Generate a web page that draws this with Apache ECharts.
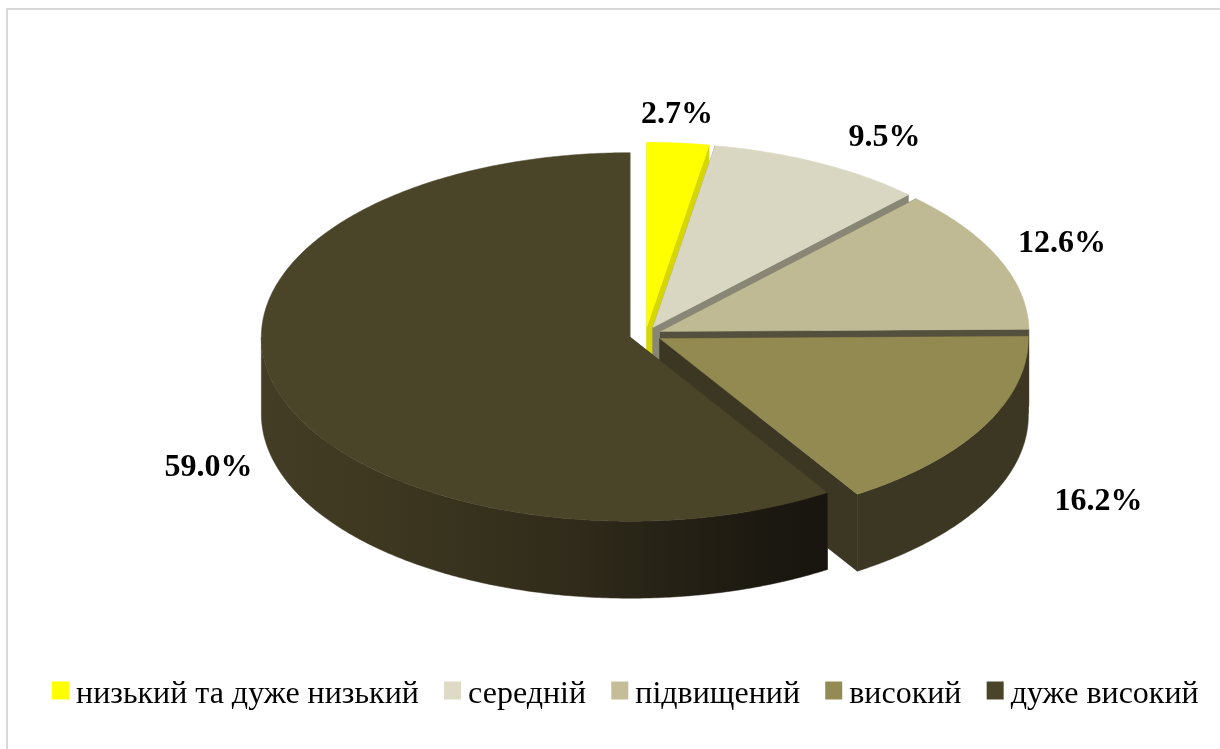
<!DOCTYPE html>
<html><head><meta charset="utf-8">
<style>html,body{margin:0;padding:0;background:#fff}#c{width:1220px;height:749px}</style>
<script src="https://cdn.jsdelivr.net/npm/echarts@6/dist/echarts.min.js"></script>
</head><body><div id="c"></div>
<script>
const categories = ['низький та дуже низький','середній','підвищений','високий','дуже високий'];
const shares = [2.7, 9.5, 12.6, 16.2, 59.0];

const topColors = ['#ffff00','#d9d6c1','#c0ba94','#938a52','#4a4429'];
const legendColors = ['#ffff00','#dedac5','#c4bd97','#948a54','#4a452a'];
const radialWallColors = ['#d6d600','#888674','#54503e','#3c3722','#3c3722'];
const outerWallColors = ['#d6d600','#888674','#54503e','#3c3722',null];
const labelAnchors = [[677,115],[884.5,138],[1062,244],[1098.5,502],[208.5,468]];

const CX=645.5, CY=334.7, RX=368.5, FLAT=0.5, EXPLODE=16.3, DEPTH=77;
const RY=RX*FLAT;
const total=shares.reduce((a,b)=>a+b,0);
const TAU=Math.PI*2;

function pt(c,a,dy){return [c[0]+RX*Math.sin(a), c[1]-RY*Math.cos(a)+(dy||0)];}
function arc(c,a0,a1,dy){
  const out=[], n=Math.max(4,Math.ceil((a1-a0)/0.01));
  for(let i=0;i<=n;i++) out.push(pt(c,a0+(a1-a0)*i/n,dy));
  return out;
}
function renderSlice(params,api){
  const i=params.seriesIndex, v=api.value(0);
  let before=0; for(let k=0;k<i;k++) before+=shares[k];
  const a0=before/total*TAU, a1=(before+v)/total*TAU, mid=(a0+a1)/2;
  const c=[CX+EXPLODE*Math.sin(mid), CY-EXPLODE*FLAT*Math.cos(mid)];
  const kids=[];
  const poly=(points,fill,stroke)=>kids.push({type:'polygon',shape:{points},
    style:{fill,stroke:stroke||fill,lineWidth:0.5}});
  [a0,a1].forEach(a=>{
    const p=pt(c,a);
    poly([c,p,[p[0],p[1]+DEPTH],[c[0],c[1]+DEPTH]],radialWallColors[i]);
  });
  const w0=Math.max(a0,Math.PI/2), w1=Math.min(a1,Math.PI*1.5);
  if(w1>w0){
    const top=arc(c,w0,w1,0), bottom=arc(c,w0,w1,DEPTH).reverse();
    const fill = outerWallColors[i] || new echarts.graphic.LinearGradient(1,0,0,0,[
      {offset:0,color:'#181510'},{offset:0.12,color:'#1c1911'},{offset:0.45,color:'#302b1a'},
      {offset:0.8,color:'#3e3821'},{offset:1,color:'#433d25'}]);
    poly(top.concat(bottom),fill);
  }
  poly([c].concat(arc(c,a0,a1,0)),topColors[i]);
  kids.push({type:'text',z2:10,x:labelAnchors[i][0],y:labelAnchors[i][1],
    style:{text:v.toFixed(1)+'%',fill:'#000',align:'center',verticalAlign:'middle',
      font:'bold 32px "Liberation Serif"'}});
  return {type:'group',children:kids};
}

const chart=echarts.init(document.getElementById('c'),null,{renderer:'canvas'});
chart.setOption({
  animation:false,
  backgroundColor:'#fff',
  graphic:[
    {type:'line',silent:true,shape:{x1:7,y1:9,x2:1220,y2:9},style:{stroke:'#d9d9d9',lineWidth:2}},
    {type:'line',silent:true,shape:{x1:7,y1:8,x2:7,y2:749},style:{stroke:'#d9d9d9',lineWidth:2}}
  ],
  legend:{
    left:52,top:679,padding:0,itemWidth:17,itemHeight:18,itemGap:25.2,icon:'rect',
    formatter:name=>'{t|'+name+'}',
    textStyle:{fontFamily:'Liberation Serif',fontSize:32,color:'#000',
      rich:{t:{fontFamily:'Liberation Serif',fontSize:32,color:'#000',padding:[9,0,0,2]}}},
    selectedMode:false,
    data:categories.map((name,i)=>({name,itemStyle:{color:legendColors[i]}}))
  },
  series:categories.map((name,i)=>({
    type:'custom',name,coordinateSystem:'none',
    itemStyle:{color:legendColors[i]},
    renderItem:renderSlice,
    silent:true,
    data:[[shares[i]]]
  }))
});
</script></body></html>
